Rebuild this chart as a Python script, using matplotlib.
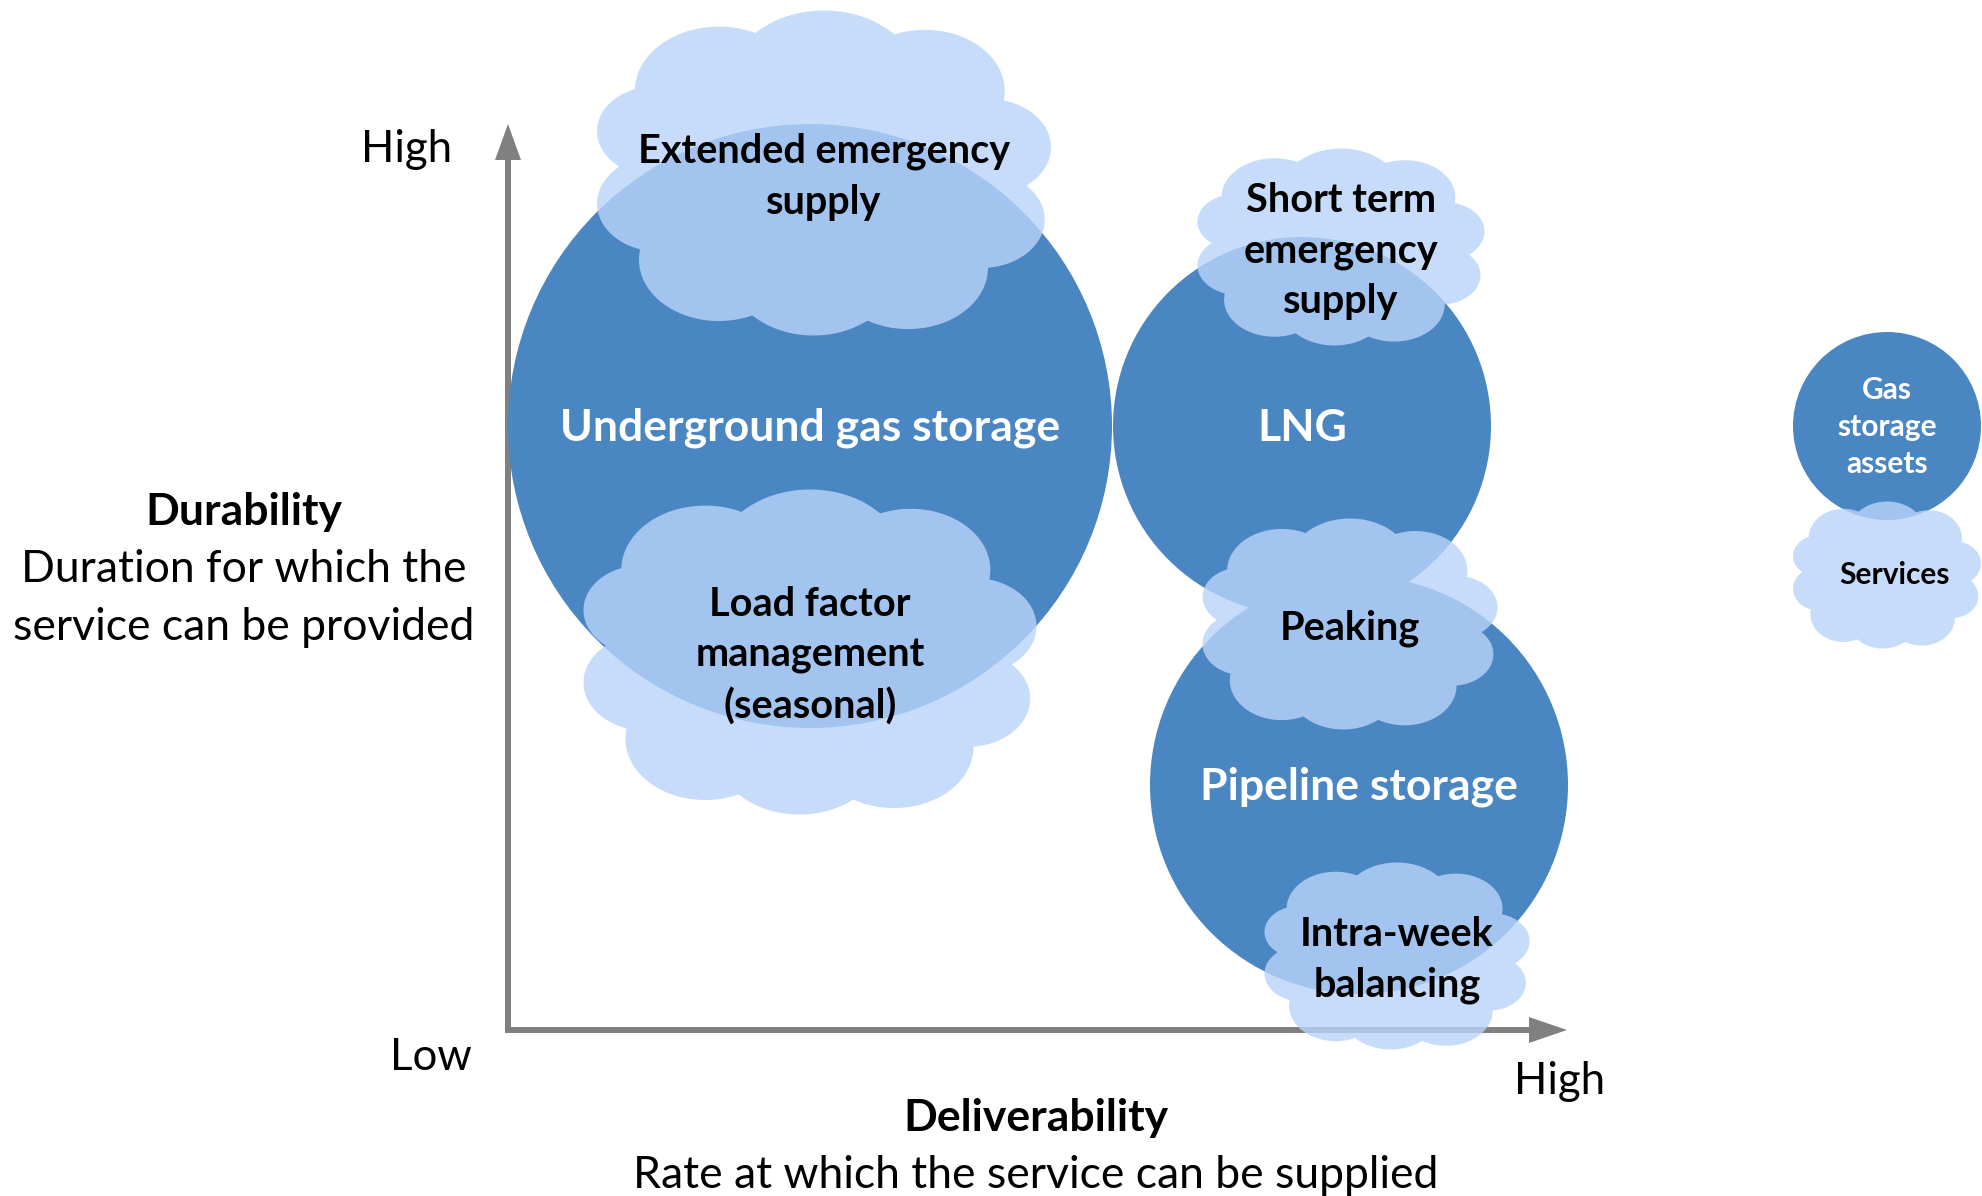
import numpy as np
import matplotlib.pyplot as plt
from matplotlib.patches import Circle, Polygon, FancyArrow

plt.rcParams['font.family'] = ['Lato', 'DejaVu Sans']

W, H = 1982, 1196

# Gas storage assets (circles), diagram coordinates in pixels
asset_labels = ["Underground gas storage", "LNG", "Pipeline storage"]
asset_x = [810, 1302, 1359]
asset_y = [426, 426, 785]
asset_r = [302, 189, 209]

# Services (clouds)
service_labels = ["Extended emergency\nsupply", "Short term\nemergency\nsupply",
                  "Load factor\nmanagement\n(seasonal)", "Peaking",
                  "Intra-week\nbalancing"]
service_x = [824, 1341, 810, 1350, 1397]
service_y = [173, 247, 652, 624, 956]
service_w = [454, 287, 453, 295, 265]
service_h = [325, 197, 325, 211, 187]

# legend items
legend_circle = ("Gas\nstorage\nassets", 1887, 426, 94)
legend_cloud = ("Services", 1887, 575, 188, 147)

CIRCLE_COL = "#4A86C1"
CLOUD_COL = (0.73, 0.83, 0.98, 0.8)
AXIS_COL = "#808080"

# lobes of the cloud shape (normalised, y up)
LOBES = [(0.0, 0.55, 0.45), (-0.5, 0.5, 0.4), (0.48, 0.5, 0.38),
         (0.78, 0.15, 0.3), (0.75, -0.3, 0.3), (0.4, -0.6, 0.38),
         (-0.05, -0.62, 0.4), (-0.5, -0.55, 0.38), (-0.78, -0.2, 0.3),
         (-0.8, 0.25, 0.28), (0.0, 0.0, 0.6)]


def cloud_outline(cx, cy, w, h, n=900):
    th = np.linspace(0, 2 * np.pi, n, endpoint=False)
    ux, uy = np.cos(th), np.sin(th)
    rr = np.zeros(n)
    for lx, ly, lr in LOBES:
        b = ux * lx + uy * ly
        disc = b ** 2 - (lx ** 2 + ly ** 2) + lr ** 2
        t = np.where(disc >= 0, b + np.sqrt(np.clip(disc, 0, None)), 0)
        rr = np.maximum(rr, t)
    x, y = rr * ux, rr * uy
    x = (x - x.min()) / (x.max() - x.min()) * 2 - 1
    y = (y - y.min()) / (y.max() - y.min()) * 2 - 1
    return np.column_stack([cx + x * w / 2, cy - y * h / 2])


fig = plt.figure(figsize=(19.82, 11.96), dpi=100)
ax = fig.add_axes([0, 0, 1, 1])
ax.set_xlim(0, W)
ax.set_ylim(H, 0)
ax.axis("off")

# axes arrows
ax.add_patch(FancyArrow(508, 1030, 0, -906, width=6, head_width=26, head_length=36,
                        length_includes_head=True, color=AXIS_COL, lw=0, zorder=1))
ax.add_patch(FancyArrow(505, 1030, 1062, 0, width=6, head_width=26, head_length=38,
                        length_includes_head=True, color=AXIS_COL, lw=0, zorder=1))

# circles
for lab, x, y, r in zip(asset_labels, asset_x, asset_y, asset_r):
    ax.add_patch(Circle((x, y), r, color=CIRCLE_COL, lw=0, zorder=2))
    ax.text(x, y + 2, lab, color="white", fontsize=32, fontweight="bold",
            ha="center", va="center", zorder=5)

# clouds
for lab, x, y, w, h in zip(service_labels, service_x, service_y, service_w, service_h):
    ax.add_patch(Polygon(cloud_outline(x, y, w, h), closed=True, fc=CLOUD_COL,
                         lw=0, zorder=3))
    ax.text(x, y + 4, lab, color="black", fontsize=28.5, fontweight="bold",
            ha="center", va="center", linespacing=1.45, zorder=5)

# legend
lab, x, y, r = legend_circle
ax.add_patch(Circle((x, y), r, color=CIRCLE_COL, lw=0, zorder=2))
ax.text(x, y + 1, lab, color="white", fontsize=21.5, fontweight="bold",
        ha="center", va="center", linespacing=1.4, zorder=5)
lab, x, y, w, h = legend_cloud
ax.add_patch(Polygon(cloud_outline(x, y, w, h), closed=True, fc=CLOUD_COL, lw=0, zorder=3))
ax.text(x + 8, y, lab, color="black", fontsize=21.5, fontweight="bold",
        ha="center", va="center", zorder=5)

# axis labels
ax.text(407, 150, "High", fontsize=31.5, ha="center", va="center")
ax.text(431, 1057, "Low", fontsize=31.5, ha="center", va="center")
ax.text(1560, 1081, "High", fontsize=31.5, ha="center", va="center")
ax.text(244, 512, "Durability", fontsize=32, fontweight="bold", ha="center", va="center")
ax.text(244, 570, "Duration for which the", fontsize=32, ha="center", va="center")
ax.text(244, 627, "service can be provided", fontsize=32, ha="center", va="center")
ax.text(1036, 1118, "Deliverability", fontsize=32, fontweight="bold", ha="center", va="center")
ax.text(1036, 1175, "Rate at which the service can be supplied", fontsize=32,
        ha="center", va="center")

fig.savefig("out.png", dpi=100)
